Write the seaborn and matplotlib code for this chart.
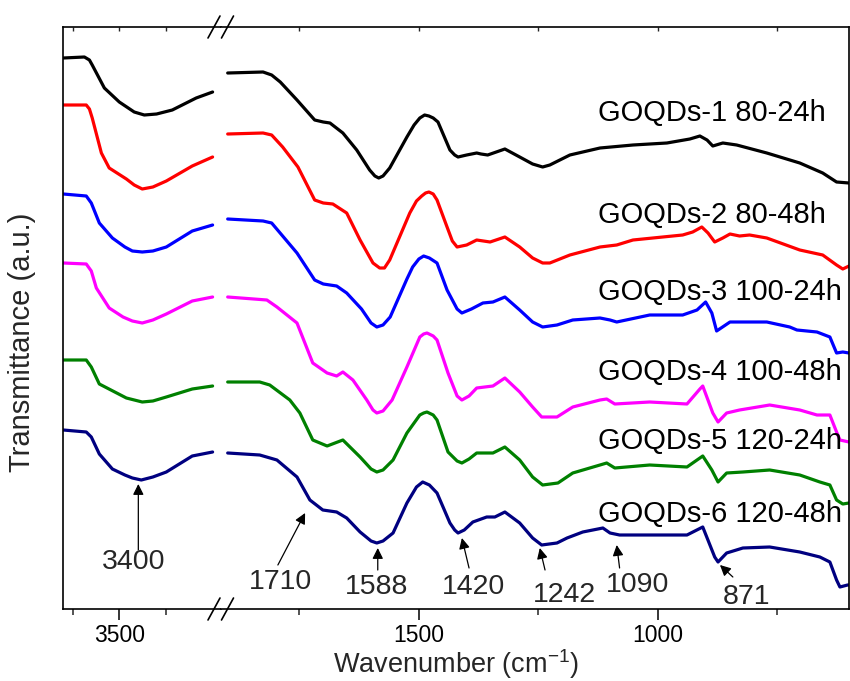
import numpy as np
import pandas as pd
import matplotlib
matplotlib.use("Agg")
import matplotlib.pyplot as plt
import seaborn as sns
from matplotlib.lines import Line2D

sns.set_style("ticks")
plt.rcParams["font.family"] = ["Liberation Sans", "DejaVu Sans"]
plt.rcParams["mathtext.default"] = "regular"

samples = ["GOQDs-1 80-24h", "GOQDs-2 80-48h", "GOQDs-3 100-24h",
           "GOQDs-4 100-48h", "GOQDs-5 120-24h", "GOQDs-6 120-48h"]
colors = ["#000000", "#ff0000", "#0000ff", "#ff00ff", "#008000", "#000080"]

# ---- high wavenumber segment (3800-3000 cm-1), offset transmittance (a.u.)
hi_wn = {
    0: [3800, 3687, 3660, 3645, 3580, 3500, 3420, 3366, 3300, 3216, 3088, 3000],
    1: [3800, 3677, 3660, 3645, 3596, 3554, 3462, 3420, 3377, 3320, 3248, 3109, 3000],
    2: [3800, 3677, 3650, 3607, 3537, 3470, 3430, 3377, 3320, 3248, 3109, 3000],
    3: [3800, 3677, 3650, 3623, 3554, 3480, 3430, 3377, 3320, 3248, 3109, 3000],
    4: [3800, 3677, 3650, 3607, 3462, 3377, 3320, 3248, 3109, 3000],
    5: [3800, 3677, 3650, 3607, 3537, 3470, 3430, 3382, 3320, 3248, 3109, 3000],
}
hi_t = {
    0: [551, 552, 549, 544, 521, 507, 497, 494, 495, 499, 511, 517],
    1: [504, 504, 500, 491, 456, 441, 430, 424, 420, 422, 428, 443, 452],
    2: [415, 413, 406, 386, 371, 362, 358, 357, 358, 362, 378, 384],
    3: [346, 345, 338, 321, 301, 292, 288, 286, 289, 295, 308, 312],
    4: [249, 249, 242, 225, 211, 207, 208, 212, 220, 223],
    5: [179, 177, 172, 155, 140, 134, 131, 129, 132, 137, 153, 157],
}

# ---- fingerprint segment (1900-600 cm-1)
lo_wn = {
    0: [1900, 1826, 1808, 1790, 1755, 1718, 1700, 1686, 1659, 1630, 1603, 1592,
        1584, 1575, 1561, 1525, 1510, 1498, 1488, 1479, 1470, 1460, 1435, 1425,
        1418, 1400, 1379, 1370, 1356, 1320, 1289, 1262, 1241, 1226, 1184, 1121,
        1052, 981, 933, 912, 897, 885, 864, 835, 772, 703, 655, 626, 600],
    1: [1900, 1826, 1808, 1785, 1753, 1718, 1700, 1680, 1651, 1623, 1596, 1582,
        1572, 1561, 1519, 1505, 1494, 1486, 1479, 1470, 1462, 1441, 1430, 1420,
        1400, 1379, 1351, 1320, 1289, 1262, 1241, 1226, 1184, 1121, 1086, 1052,
        948, 927, 908, 895, 881, 864, 849, 829, 808, 772, 703, 655, 626, 613, 600],
    2: [1900, 1826, 1808, 1755, 1718, 1700, 1672, 1651, 1620, 1600, 1588, 1575,
        1560, 1525, 1513, 1500, 1490, 1478, 1462, 1441, 1420, 1410, 1390, 1366,
        1345, 1320, 1289, 1262, 1241, 1211, 1178, 1121, 1100, 1086, 1017, 948,
        918, 900, 887, 877, 849, 808, 772, 724, 709, 667, 640, 626, 613, 600],
    3: [1900, 1818, 1797, 1755, 1722, 1692, 1672, 1659, 1638, 1609, 1596, 1588,
        1575, 1556, 1525, 1498, 1490, 1483, 1470, 1462, 1439, 1420, 1410, 1395,
        1379, 1345, 1320, 1289, 1262, 1243, 1211, 1178, 1121, 1107, 1090, 1017,
        939, 912, 906, 885, 874, 856, 829, 766, 703, 667, 640, 626, 619, 600],
    4: [1900, 1833, 1812, 1770, 1749, 1722, 1692, 1659, 1623, 1600, 1588, 1575,
        1554, 1525, 1498, 1490, 1483, 1470, 1462, 1439, 1420, 1410, 1395, 1379,
        1345, 1320, 1289, 1262, 1241, 1209, 1178, 1121, 1107, 1090, 1017, 939,
        906, 887, 874, 856, 822, 766, 703, 661, 640, 626, 613, 600],
    5: [1900, 1833, 1797, 1755, 1728, 1701, 1672, 1651, 1623, 1600, 1588, 1575,
        1554, 1525, 1505, 1492, 1478, 1462, 1435, 1425, 1418, 1405, 1387, 1358,
        1341, 1320, 1289, 1262, 1243, 1211, 1190, 1157, 1115, 1100, 1080, 1017,
        939, 906, 881, 874, 856, 822, 766, 703, 661, 640, 626, 619, 603, 600],
}
lo_t = {
    0: [536, 537, 534, 527, 509, 489, 487, 486, 476, 459, 439, 433,
        431, 433, 441, 472, 484, 491, 494, 493, 491, 487, 459, 454,
        452, 454, 456, 455, 454, 460, 452, 445, 442, 444, 454, 461,
        464, 466, 470, 473, 469, 463, 466, 464, 456, 446, 436, 427, 426],
    1: [475, 476, 474, 462, 442, 409, 406, 405, 396, 369, 346, 341,
        341, 349, 396, 408, 413, 416, 417, 415, 409, 382, 368, 362,
        364, 369, 367, 372, 362, 351, 346, 346, 354, 362, 364, 369,
        374, 377, 382, 376, 367, 371, 375, 373, 374, 371, 359, 354, 344, 340, 343],
    2: [390, 388, 386, 356, 329, 325, 323, 316, 300, 286, 282, 284,
        292, 330, 342, 350, 353, 351, 346, 319, 300, 296, 300, 306,
        307, 312, 299, 287, 282, 284, 289, 291, 289, 287, 294, 294,
        299, 307, 296, 278, 287, 287, 287, 282, 279, 277, 272, 256, 257, 256],
    3: [312, 309, 302, 286, 246, 236, 233, 237, 229, 209, 199, 196,
        198, 209, 242, 272, 275, 276, 273, 269, 236, 213, 209, 213,
        221, 223, 231, 217, 202, 192, 192, 202, 209, 210, 205, 207,
        205, 220, 223, 196, 187, 196, 199, 204, 199, 194, 194, 177, 169, 167],
    4: [227, 227, 224, 209, 196, 169, 163, 169, 152, 140, 137, 139,
        149, 176, 194, 196, 197, 194, 189, 157, 148, 146, 150, 156,
        156, 162, 149, 132, 124, 126, 136, 144, 146, 141, 144, 142,
        153, 139, 127, 136, 137, 139, 134, 127, 124, 109, 105, 106],
    5: [156, 154, 149, 132, 109, 99, 97, 91, 77, 68, 66, 68,
        76, 106, 122, 127, 124, 116, 86, 79, 76, 79, 87, 92,
        92, 97, 86, 71, 64, 66, 71, 77, 81, 76, 74, 74,
        74, 82, 52, 47, 56, 61, 62, 57, 52, 47, 29, 22, 24, 24],
}

# annotated bands: label, arrow tip (wn, T), text (wn, T), arrow tail (wn, T)
peak_labels = ["1710", "1588", "1420", "1242", "1090", "871"]
peak_tip_wn = [1738, 1586, 1410, 1247, 1086, 870]
peak_tip_t = [96, 61, 71, 61, 64, 44]
peak_txt_wn = [1789, 1588, 1385, 1195, 1042, 814]
peak_txt_t = [27, 22, 22, 14, 24, 12]
peak_tail_wn = [1795, 1586, 1395, 1236, 1080, 843]
peak_tail_t = [44, 39, 41, 39, 41, 32]

label_wn = 1125
label_t = [496, 394, 317, 237, 168, 95]


def frame(wn, tt):
    rows = []
    for i, name in enumerate(samples):
        for w, t in zip(wn[i], tt[i]):
            rows.append((name, w, t))
    return pd.DataFrame(rows, columns=["sample", "wavenumber", "T"])


df_hi = frame(hi_wn, hi_t)
df_lo = frame(lo_wn, lo_t)
pal = dict(zip(samples, colors))

W, H = 850, 681
fig = plt.figure(figsize=(W / 100, H / 100), dpi=100)
x0, xb, x1 = 63.3, 221.0, 849.0
yb, yt = 609.0, 27.0
axL = fig.add_axes([x0 / W, 1 - yb / H, (xb - x0) / W, (yb - yt) / H])
axR = fig.add_axes([xb / W, 1 - yb / H, (x1 - xb) / W, (yb - yt) / H])

for ax, df in ((axL, df_hi), (axR, df_lo)):
    sns.lineplot(data=df, x="wavenumber", y="T", hue="sample", palette=pal,
                 estimator=None, sort=True, legend=False, lw=2.3, ax=ax)
    ax.set_ylim(0, 582)
    ax.set_yticks([])
    ax.set_xlabel("")
    ax.set_ylabel("")
    for s in ax.spines.values():
        s.set_linewidth(1.2)
        s.set_color("black")
    ax.tick_params(axis="x", which="major", direction="out", length=8,
                   width=1.1, labelsize=16.5, pad=3, colors="black")
    ax.tick_params(axis="x", which="minor", direction="out", length=4,
                   width=1.1)
    for line in ax.get_lines():
        line.set_solid_capstyle("round")
        line.set_solid_joinstyle("round")

axL.set_xlim(3800, 2955)
axL.set_xticks([3500])
axL.set_xticks([3750, 3250], minor=True)
axL.spines["right"].set_visible(False)

axR.set_xlim(1914, 600)
axR.set_xticks([1500, 1000])
axR.set_xticks([1750, 1250, 750], minor=True)
axR.spines["left"].set_visible(False)

# small inward ticks on top edge
for ax, maj, mnr in ((axL, [3500], [3750, 3250]), (axR, [1500, 1000], [1750, 1250, 750])):
    top = ax.secondary_xaxis("top")
    top.set_xticks(maj + mnr)
    top.tick_params(direction="in", length=3, width=1.0, labeltop=False)
    top.spines["top"].set_visible(False)

axL.set_ylabel("Transmittance (a.u.)", fontsize=21)
axL.yaxis.set_label_coords(-0.17, 0.459)
fig.text(0.536, 1 - 664 / H, "Wavenumber (cm$^{-1}$)", fontsize=19.5,
         ha="center", va="center")

# sample labels
for name, t in zip(samples, label_t):
    axR.text(label_wn, t, name, fontsize=21, ha="left", va="center", color="black")

# band annotations
arrow_kw = dict(arrowstyle="-|>", color="black", lw=0.9, mutation_scale=16,
                shrinkA=0, shrinkB=0)
axL.annotate("", xy=(3398, 125), xytext=(3398, 59), arrowprops=arrow_kw)
axL.text(3425, 47, "3400", fontsize=20.5, ha="center", va="center")
for lab, tw, tt_, xw, xt, aw, at in zip(peak_labels, peak_tip_wn, peak_tip_t,
                                       peak_txt_wn, peak_txt_t,
                                       peak_tail_wn, peak_tail_t):
    axR.annotate("", xy=(tw, tt_), xytext=(aw, at), arrowprops=arrow_kw)
    axR.text(xw, xt, lab, fontsize=20.5, ha="center", va="center")

# axis-break marks
for yc in (yb, yt):
    for xc in (214.0, 227.5):
        fig.add_artist(Line2D([(xc - 6) / W, (xc + 6) / W],
                              [1 - (yc + 11) / H, 1 - (yc - 11) / H],
                              transform=fig.transFigure, color="black", lw=1.2))

fig.savefig("out.png", dpi=100)
